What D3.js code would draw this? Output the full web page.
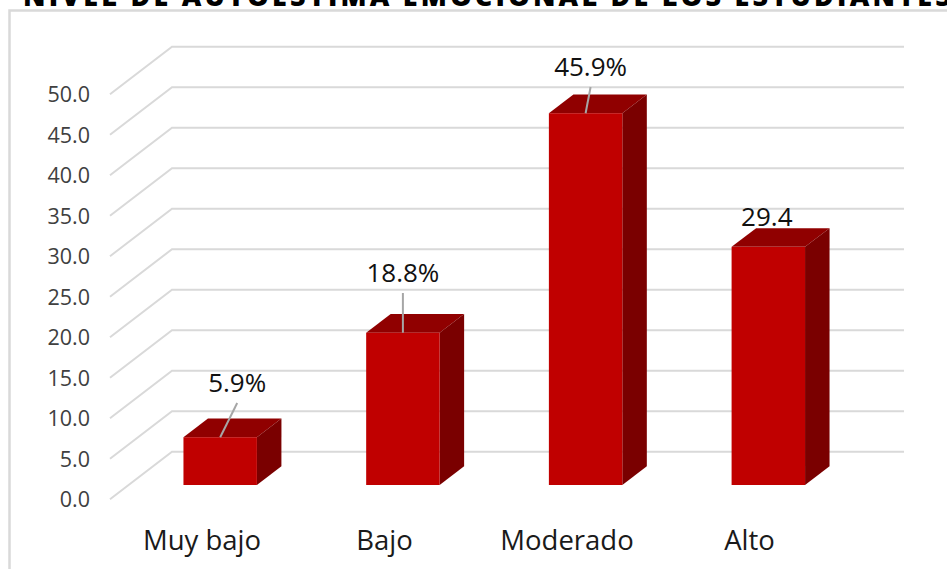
<!DOCTYPE html>
<html>
<head>
<meta charset="utf-8">
<script src="https://cdn.jsdelivr.net/npm/d3@7"></script>
<style>
  html, body { margin: 0; padding: 0; background: #fff; overflow: hidden; }
  text { font-family: "Open Sans", sans-serif; }
</style>
</head>
<body>
<div class="chart"></div>
<script>
// Chart data
var categories = ["Muy bajo", "Bajo", "Moderado", "Alto"];
var values = [5.9, 18.8, 45.9, 29.4];
var valueLabels = ["5.9%", "18.8%", "45.9%", "29.4"];
var yTicks = [0, 5, 10, 15, 20, 25, 30, 35, 40, 45, 50];
var title = "NIVEL DE AUTOESTIMA EMOCIONAL DE LOS ESTUDIANTES";

var svgWidth = 947;
var svgHeight = 569;

var svg = d3.select(".chart")
  .append("svg")
  .attr("width", svgWidth)
  .attr("height", svgHeight)
  .style("display", "block");

// Title is cut off by the top of the picture
svg.append("text")
  .attr("x", 23)
  .attr("y", 6)
  .attr("font-size", 27)
  .attr("font-weight", 800)
  .attr("letter-spacing", 3.2)
  .attr("fill", "#000")
  .text(title);

// Chart frame, only top and left edges are in the picture
svg.append("path")
  .attr("d", `M947,10.5H9.5V569`)
  .attr("fill", "none")
  .attr("stroke", "#d9d9d9")
  .attr("stroke-width", 2.5);

// Scales
var backY = d3.scaleLinear().domain([0, 50]).range([451.7, 46.7]);
var frontY = d3.scaleLinear().domain([0, 50]).range([500, 95]);
var barX = d3.scaleBand().domain(categories).range([74.2, 914.3]).padding(0.598);
var labelX = d3.scalePoint().domain(categories).range([201.5, 749]);

// 3d offsets
var wallDx = 62;
var wallDy = 47.5;
var barBaseDy = 33.3;
var barDx = 24.5;
var barDy = 18.7;
var wallLeft = 172;
var wallRight = 904;

// Gridlines: floor/side piece and back wall piece
svg.append("g").selectAll("path")
  .data(yTicks)
  .enter()
  .append("path")
  .attr("d", d => `M${wallLeft - wallDx},${backY(d) + wallDy}L${wallLeft},${backY(d)}H${wallRight}`)
  .attr("fill", "none")
  .attr("stroke", "#d9d9d9")
  .attr("stroke-width", 2);

// Y axis labels
var yAxis = d3.axisLeft(frontY)
  .tickValues(yTicks)
  .tickFormat(d3.format(".1f"))
  .tickSize(0)
  .tickPadding(0);

var yAxisGroup = svg.append("g")
  .attr("transform", "translate(90,0)")
  .call(yAxis);
yAxisGroup.select(".domain").remove();
yAxisGroup.selectAll("text")
  .attr("font-size", 21.5)
  .attr("fill", "#404040")
  .style("font-family", '"Open Sans", sans-serif');

// X axis labels
var xAxis = d3.axisBottom(labelX).tickSize(0).tickPadding(0);
var xAxisGroup = svg.append("g")
  .attr("transform", "translate(0,530)")
  .call(xAxis);
xAxisGroup.select(".domain").remove();
xAxisGroup.selectAll("text")
  .attr("font-size", 27.5)
  .attr("fill", "#1a1a1a")
  .style("font-family", '"Open Sans", sans-serif');

// Value labels and leader lines sit behind the bars
var labelOffsets = [
  { dx: 17, y: 392, x1: 17, y1: 403 },
  { dx: 0, y: 282, x1: 0, y1: 293 },
  { dx: 5, y: 76, x1: 5, y1: 87 },
  { dx: -1.5, y: 226 }
];

var labelGroup = svg.append("g");
labelGroup.selectAll("text")
  .data(valueLabels)
  .enter()
  .append("text")
  .attr("x", (d, i) => barX(categories[i]) + barX.bandwidth() / 2 + labelOffsets[i].dx)
  .attr("y", (d, i) => labelOffsets[i].y)
  .attr("text-anchor", "middle")
  .attr("font-size", 26)
  .attr("fill", "#111")
  .text(d => d);

// Bars
var barBase = backY(0) + barBaseDy;
var barHeight = d => backY(0) - backY(d);

var bars = svg.append("g").selectAll("g")
  .data(values)
  .enter()
  .append("g");

// top face
bars.append("path")
  .attr("d", (d, i) => {
    var x = barX(categories[i]), w = barX.bandwidth(), top = barBase - barHeight(d);
    return `M${x},${top}l${barDx},${-barDy}h${w}l${-barDx},${barDy}Z`;
  })
  .attr("fill", "#900000");

// side face
bars.append("path")
  .attr("d", (d, i) => {
    var x = barX(categories[i]) + barX.bandwidth(), top = barBase - barHeight(d);
    return `M${x},${top}l${barDx},${-barDy}V${barBase - barDy}l${-barDx},${barDy}Z`;
  })
  .attr("fill", "#7a0000");

// front face
bars.append("rect")
  .attr("x", (d, i) => barX(categories[i]))
  .attr("y", d => barBase - barHeight(d))
  .attr("width", barX.bandwidth())
  .attr("height", d => barHeight(d))
  .attr("fill", "#c00000");

// Leader lines run over the top face of the bar
svg.append("g").selectAll("line")
  .data(values.filter((d, i) => labelOffsets[i].y1 !== undefined))
  .enter()
  .append("line")
  .attr("x1", (d, i) => barX(categories[i]) + barX.bandwidth() / 2 + labelOffsets[i].x1)
  .attr("y1", (d, i) => labelOffsets[i].y1)
  .attr("x2", (d, i) => barX(categories[i]) + barX.bandwidth() / 2)
  .attr("y2", d => barBase - barHeight(d))
  .attr("stroke", "#a6a6a6")
  .attr("stroke-width", 2);
</script>
</body>
</html>
